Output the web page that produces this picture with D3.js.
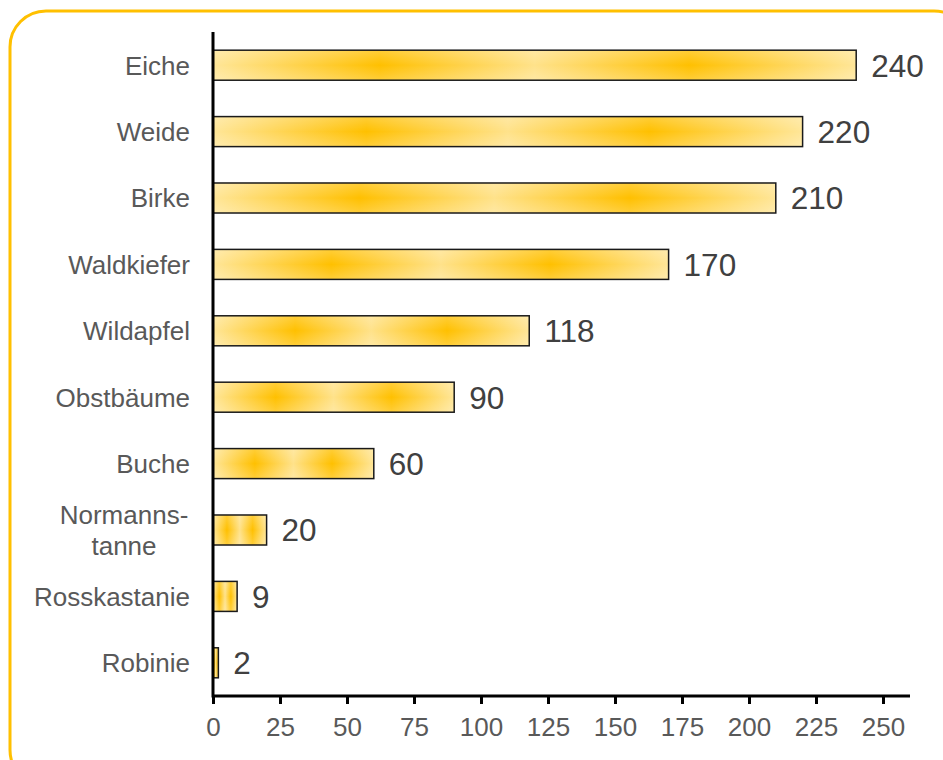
<!DOCTYPE html>
<html lang="de">
<head>
<meta charset="UTF-8">
<title>Bäume</title>
<style>
  body { margin: 0; background: #fff; }
  svg { display: block; font-family: "Liberation Sans", Arial, sans-serif; }
</style>
</head>
<body>
<div id="chart"></div>
<script src="https://d3js.org/d3.v7.min.js"></script>
<script>
// data
const categories = ["Eiche", "Weide", "Birke", "Waldkiefer", "Wildapfel", "Obstbäume", "Buche", "Normanns-\ntanne", "Rosskastanie", "Robinie"];
const values = [240, 220, 210, 170, 118, 90, 60, 20, 9, 2];
const xTicks = [0, 25, 50, 75, 100, 125, 150, 175, 200, 225, 250];

const width = 943, height = 760;

const svg = d3.select("#chart").append("svg")
  .attr("width", width)
  .attr("height", height);

// gradient for the bars: light / dark / light / dark / light
const defs = svg.append("defs");
const grad = defs.append("linearGradient").attr("id", "barGrad")
  .attr("x1", 0).attr("x2", 1).attr("y1", 0).attr("y2", 0);
[[0, "#ffe698"], [0.26, "#ffc000"], [0.5, "#ffe28a"], [0.74, "#ffc000"], [1, "#ffe698"]]
  .forEach(s => grad.append("stop").attr("offset", s[0]).attr("stop-color", s[1]));
const shade = defs.append("linearGradient").attr("id", "barShade")
  .attr("x1", 0).attr("x2", 0).attr("y1", 0).attr("y2", 1);
[[0, 0.22], [0.5, 0], [1, 0.22]]
  .forEach(s => shade.append("stop").attr("offset", s[0]).attr("stop-color", "#fff").attr("stop-opacity", s[1]));

// frame
svg.append("rect")
  .attr("x", 10).attr("y", 11)
  .attr("width", 960).attr("height", 775)
  .attr("rx", 36)
  .attr("fill", "none")
  .attr("stroke", "#ffc000")
  .attr("stroke-width", 3);

const x = d3.scaleLinear().domain([0, 250]).range([213, 883]);
const y = d3.scaleBand().domain(categories).range([32, 696])
  .paddingInner(0.548).paddingOuter(0.274);

// bars
const bars = svg.append("g").selectAll("g")
  .data(categories)
  .join("g");

bars.append("rect")
  .attr("x", x(0))
  .attr("y", d => y(d))
  .attr("width", (d, i) => x(values[i]) - x(0))
  .attr("height", y.bandwidth())
  .attr("fill", "url(#barGrad)");

bars.append("rect")
  .attr("x", x(0))
  .attr("y", d => y(d))
  .attr("width", (d, i) => x(values[i]) - x(0))
  .attr("height", y.bandwidth())
  .attr("fill", "url(#barShade)")
  .attr("stroke", "#1a1a1a")
  .attr("stroke-width", 1.5);

// value labels
bars.append("text")
  .attr("x", (d, i) => x(values[i]) + 15)
  .attr("y", d => y(d) + y.bandwidth() / 2)
  .attr("dy", "0.36em")
  .attr("font-size", 31.5)
  .attr("fill", "#404040")
  .text((d, i) => values[i]);

// category labels
const catLabels = svg.append("g").selectAll("text")
  .data(categories)
  .join("text")
  .attr("font-size", 26)
  .attr("fill", "#595959")
  .attr("text-anchor", "end")
  .attr("x", 190)
  .attr("y", d => y(d) + y.bandwidth() / 2);

catLabels.each(function (d) {
  const lines = d.split("\n");
  const t = d3.select(this);
  if (lines.length === 1) {
    t.append("tspan").attr("dy", "0.36em").text(d);
  } else {
    t.attr("text-anchor", "middle");
    lines.forEach((l, k) => {
      t.append("tspan")
        .attr("x", 124)
        .attr("dy", k === 0 ? (0.36 - 0.6) + "em" : "1.2em")
        .text(l);
    });
  }
});

// x axis
const xAxis = svg.append("g")
  .attr("transform", "translate(0,696)")
  .call(d3.axisBottom(x).tickValues(xTicks).tickSize(8).tickPadding(14).tickSizeOuter(0));
xAxis.select(".domain").attr("d", `M${x(0)},0H910`).attr("stroke", "#000").attr("stroke-width", 3);
xAxis.selectAll(".tick line").attr("stroke", "#000").attr("stroke-width", 3);
xAxis.selectAll(".tick text")
  .attr("font-size", 26)
  .attr("fill", "#595959")
  .attr("font-family", "Liberation Sans, Arial, sans-serif");

// y axis line
svg.append("line")
  .attr("x1", x(0)).attr("x2", x(0))
  .attr("y1", 32).attr("y2", 697.5)
  .attr("stroke", "#000")
  .attr("stroke-width", 3);
</script>
</body>
</html>
